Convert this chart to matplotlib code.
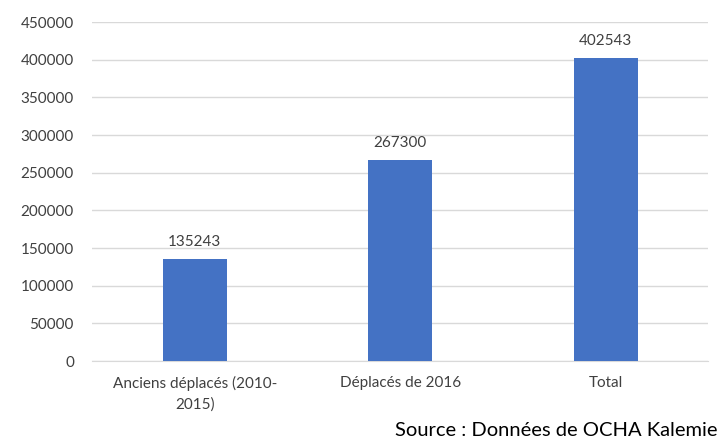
import matplotlib.pyplot as plt

categories = ['Anciens déplacés (2010-\n2015)', 'Déplacés de 2016', 'Total']
values = [135243, 267300, 402543]
yticks = [0, 50000, 100000, 150000, 200000, 250000, 300000, 350000, 400000, 450000]

plt.rcParams['font.family'] = ['Lato', 'DejaVu Sans']

fig = plt.figure(figsize=(7.21, 4.43), dpi=100)
ax = fig.add_axes([0.1276, 0.185, 0.855, 0.765])

x = range(len(values))
bars = ax.bar(x, values, width=0.31, color='#4472C4', zorder=3)
for xi, v in zip(x, values):
    ax.annotate(str(v), (xi, v), xytext=(0, 7), textcoords='offset points',
                ha='center', va='bottom', fontsize=11, color='#404040')

ax.set_xlim(-0.5, 2.5)
ax.set_ylim(0, 450000)
ax.set_yticks(yticks)
ax.set_yticklabels([str(t) for t in yticks], fontsize=11, color='#404040')
ax.set_xticks(list(x))
ax.set_xticklabels(categories, fontsize=11, color='#404040', linespacing=1.5)
ax.grid(axis='y', color='#D9D9D9', linewidth=1, zorder=0)
for s in ['top', 'right', 'left']:
    ax.spines[s].set_visible(False)
ax.spines['bottom'].set_color('#D9D9D9')
ax.tick_params(length=0, pad=13)
ax.tick_params(axis='x', pad=11)

fig.text(0.995, 0.008, 'Source : Données de OCHA Kalemie', ha='right', va='bottom',
         fontsize=14.5, color='black')

fig.savefig('out.png', dpi=100)
